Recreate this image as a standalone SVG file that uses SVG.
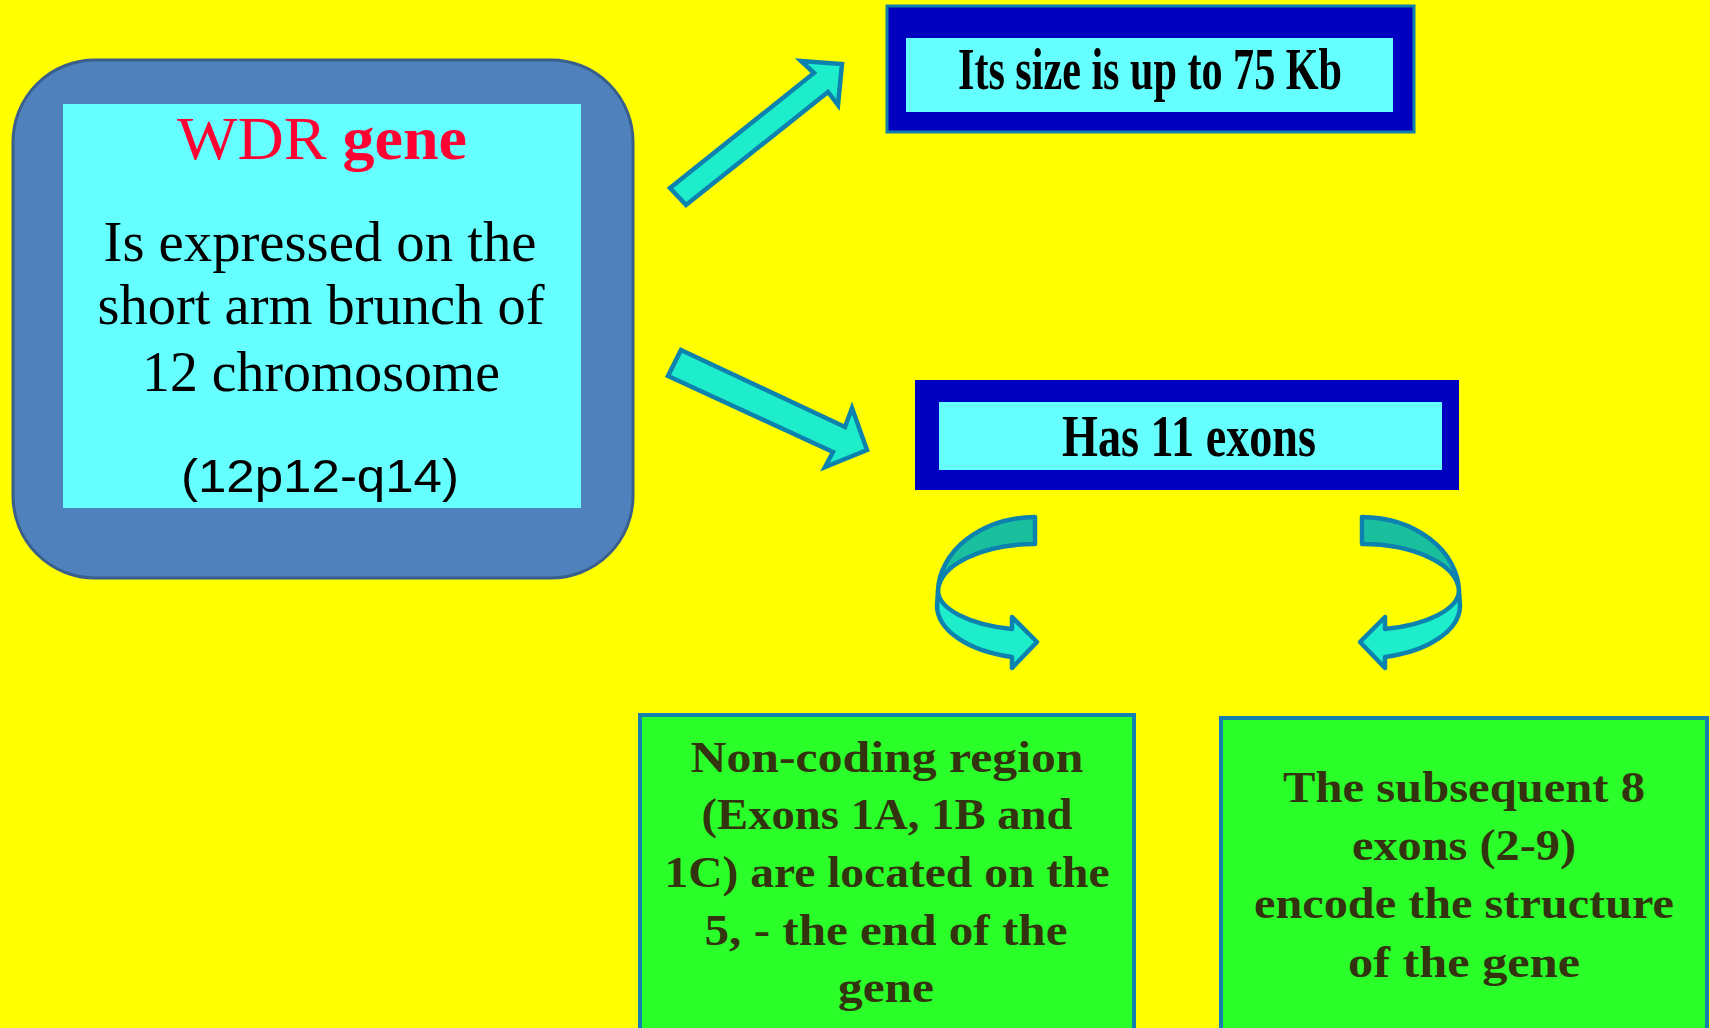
<svg xmlns="http://www.w3.org/2000/svg" xmlns:xlink="http://www.w3.org/1999/xlink" width="1710" height="1028" viewBox="0 0 1710 1028">
<style>
.arrow{fill:#1EEDCB;stroke:#0E82AE;stroke-width:4.5;stroke-linejoin:miter}
.back{fill:#1ABF9E;stroke:#0E82AE;stroke-width:4.5;stroke-linejoin:round}
.front{fill:#1EEDCB;stroke:#0E82AE;stroke-width:4.5;stroke-linejoin:round}
.serif{font-family:"Liberation Serif","Times New Roman",serif}
.main{font-size:56px;fill:#000}
.hdr{font-size:60px;font-weight:bold;fill:#000}
.grn{font-family:"Liberation Serif","Times New Roman",serif;font-size:45px;font-weight:bold;fill:#33330F}
.gbox{fill:#2AFF2A;stroke:#1580B0;stroke-width:4}
.navy{fill:#0000C0}
.cyan{fill:#66FFFF}
</style>
<defs>
<g id="curl">
<path class="back" d="M1035,517 L1035,544 A97,48 0 0 0 938,591 A98,76 0 0 1 1035,517 Z"/>
<path class="front" d="M938,591 A97,40 0 0 0 1012,629 L1012,617 L1037,642 L1012,668 L1012,657 A98,53 0 0 1 937,606 Z"/>
</g>
</defs>
<rect x="0" y="0" width="1710" height="1028" fill="#FFFF00"/>

<g id="wdr-gene">
<rect x="13" y="60" width="620" height="518" rx="82" ry="82" fill="#4F81BD" stroke="#3A5F8C" stroke-width="3"/>
<rect class="cyan" x="63" y="104" width="518" height="404"/>
<text class="serif" x="322" y="159" text-anchor="middle" font-size="62" fill="#FF0033" textLength="290" lengthAdjust="spacingAndGlyphs">WDR <tspan font-weight="bold">gene</tspan></text>
<text class="serif main" x="320" y="261" text-anchor="middle" textLength="433" lengthAdjust="spacingAndGlyphs">Is expressed on the</text>
<text class="serif main" x="321" y="324" text-anchor="middle" textLength="447" lengthAdjust="spacingAndGlyphs">short arm brunch of</text>
<text class="serif main" x="321" y="391" text-anchor="middle" textLength="358" lengthAdjust="spacingAndGlyphs">12 chromosome</text>
<text x="320" y="492" text-anchor="middle" font-family="'Liberation Sans',Arial,sans-serif" font-size="46" fill="#000" textLength="278" lengthAdjust="spacingAndGlyphs">(12p12-q14)</text>
</g>

<g id="size">
<rect class="navy" x="887" y="6" width="527" height="126" stroke="#1080A8" stroke-width="3"/>
<rect class="cyan" x="906" y="38" width="487" height="74"/>
<text class="serif hdr" x="1150" y="89" text-anchor="middle" textLength="384" lengthAdjust="spacingAndGlyphs">Its size is up to 75 Kb</text>
</g>

<g id="exons">
<rect class="navy" x="915" y="380" width="544" height="110"/>
<rect class="cyan" x="939" y="402" width="503" height="68"/>
<text class="serif hdr" x="1189" y="456" text-anchor="middle" font-size="54" textLength="254" lengthAdjust="spacingAndGlyphs">Has 11 exons</text>
</g>

<g id="noncoding">
<rect class="gbox" x="640" y="715" width="494" height="320"/>
<text class="grn" x="887" y="772" text-anchor="middle" textLength="393" lengthAdjust="spacingAndGlyphs">Non-coding region</text>
<text class="grn" x="887" y="829" text-anchor="middle" textLength="371" lengthAdjust="spacingAndGlyphs">(Exons 1A, 1B and</text>
<text class="grn" x="887" y="887" text-anchor="middle" textLength="445" lengthAdjust="spacingAndGlyphs">1C) are located on the</text>
<text class="grn" x="886" y="945" text-anchor="middle" textLength="363" lengthAdjust="spacingAndGlyphs">5, - the end of  the</text>
<text class="grn" x="886" y="1002" text-anchor="middle" textLength="96" lengthAdjust="spacingAndGlyphs">gene</text>
</g>

<g id="coding">
<rect class="gbox" x="1221" y="718" width="486" height="320"/>
<text class="grn" x="1464" y="802" text-anchor="middle" textLength="362" lengthAdjust="spacingAndGlyphs">The subsequent 8</text>
<text class="grn" x="1464" y="860" text-anchor="middle" textLength="224" lengthAdjust="spacingAndGlyphs">exons (2-9)</text>
<text class="grn" x="1464" y="918" text-anchor="middle" textLength="420" lengthAdjust="spacingAndGlyphs">encode the structure</text>
<text class="grn" x="1464" y="977" text-anchor="middle" textLength="232" lengthAdjust="spacingAndGlyphs">of the gene</text>
</g>

<g id="connectors">
<polygon class="arrow" points="670,188 814,73 801,61 842,64 838,105 828,92 686,205"/>
<polygon class="arrow" points="681,350 845,427 852,408 867,450 825,467 833,452 668,376"/>
<use xlink:href="#curl"/>
<use xlink:href="#curl" transform="translate(2397,0) scale(-1,1)"/>
</g>
</svg>
